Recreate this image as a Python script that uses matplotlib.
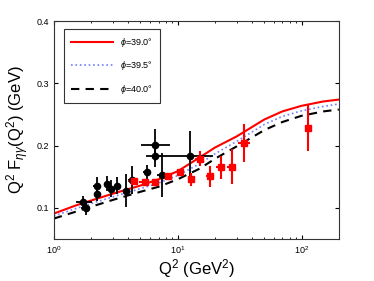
import matplotlib
matplotlib.use("Agg")
import matplotlib.pyplot as plt
import numpy as np

plt.rcParams['font.family'] = ['Liberation Sans', 'DejaVu Sans']
plt.rcParams['mathtext.fontset'] = 'custom'
plt.rcParams['mathtext.rm'] = 'Liberation Sans'
plt.rcParams['mathtext.it'] = 'Liberation Sans:italic'

# model curves
q2_curve = [1, 1.5, 2, 3, 5, 7, 10, 15, 20, 30, 50, 70, 100, 150, 200]
f_390 = [0.091, 0.104, 0.112, 0.123, 0.136, 0.146, 0.159, 0.181, 0.197, 0.215, 0.242, 0.255, 0.264, 0.271, 0.274]
f_395 = [0.087, 0.099, 0.107, 0.118, 0.131, 0.140, 0.152, 0.171, 0.187, 0.207, 0.234, 0.247, 0.256, 0.263, 0.267]
f_400 = [0.083, 0.094, 0.102, 0.113, 0.126, 0.134, 0.146, 0.163, 0.179, 0.199, 0.225, 0.238, 0.248, 0.255, 0.258]

# black data points
bx = [1.72, 1.81, 2.21, 2.21, 2.69, 2.88, 3.24, 3.8, 4.3, 5.6, 6.5, 6.5, 7.4, 12.6]
by = [0.109, 0.100, 0.136, 0.122, 0.139, 0.131, 0.136, 0.128, 0.145, 0.157, 0.201, 0.184, 0.153, 0.184]
by_err = [0.011, 0.012, 0.014, 0.010, 0.012, 0.014, 0.013, 0.026, 0.022, 0.012, 0.025, 0.018, 0.035, 0.040]
bx_lo = [0.2, 0.15, 0.15, 0.1, 0.15, 0.1, 0.15, 0.2, 0.3, 0.4, 1.4, 1.0, 0.6, 6.1]
bx_hi = [0.3, 0.15, 0.2, 0.1, 0.15, 0.1, 0.2, 0.2, 0.3, 0.4, 2.2, 1.0, 0.6, 6.7]

# red data points
rx = [4.4, 5.4, 6.6, 8.4, 10.5, 12.9, 15.0, 18.3, 22.2, 27.3, 34.5, 112]
ry = [0.143, 0.142, 0.142, 0.151, 0.157, 0.146, 0.179, 0.151, 0.165, 0.166, 0.204, 0.229]
ry_err = [0.004, 0.004, 0.004, 0.005, 0.006, 0.010, 0.012, 0.017, 0.018, 0.028, 0.030, 0.037]
rx_err = [0.4, 0.5, 0.5, 0.5, 0.6, 0.8, 1.2, 1.5, 1.8, 2.3, 4.0, 0]

fig = plt.figure(figsize=(3.74, 2.81), dpi=100)
ax = fig.add_axes([0.144, 0.149, 0.762, 0.776])

ax.plot(q2_curve, f_390, color='red', lw=1.5, label=r'$\phi$=39.0°')
ax.plot(q2_curve, f_395, color='#6f7fff', lw=1.2, ls=':', label=r'$\phi$=39.5°')
ax.plot(q2_curve, f_400, color='black', lw=1.5, ls='--', dashes=(4, 3), label=r'$\phi$=40.0°')

ax.errorbar(bx, by, yerr=by_err, xerr=[bx_lo, bx_hi], fmt='o', color='black',
            ms=4.5, elinewidth=1.3, capsize=0)
ax.errorbar(rx, ry, yerr=ry_err, xerr=rx_err, fmt='s', color='red',
            ms=4.5, elinewidth=1.5, capsize=0)

ax.set_xscale('log')
ax.set_xlim(1, 200)
ax.set_ylim(0.05, 0.4)
ax.set_yticks([0.1, 0.2, 0.3, 0.4])
ax.set_yticklabels(['0.1', '0.2', '0.3', '0.4'])
ax.tick_params(which='both', direction='in', top=True, right=True, labelsize=6.5)
ax.tick_params(which='major', length=3)
ax.tick_params(which='minor', length=1.5)
for s in ax.spines.values():
    s.set_linewidth(0.8)
    s.set_color('#333333')

ax.set_xlabel(r'Q$^2$ (GeV$^2$)', fontsize=12, labelpad=1)
ax.set_ylabel(r'Q$^2$ F$_{\eta\gamma}$(Q$^2$) (GeV)', fontsize=12, labelpad=4)

leg = ax.legend(loc='upper left', fontsize=6.5, frameon=True, fancybox=False,
                edgecolor='black', handlelength=4.6, labelspacing=1.15,
                borderpad=0.8, handletextpad=0.8, bbox_to_anchor=(0.02, 0.985))
leg.get_frame().set_linewidth(0.8)

fig.savefig('out.png', dpi=100)
